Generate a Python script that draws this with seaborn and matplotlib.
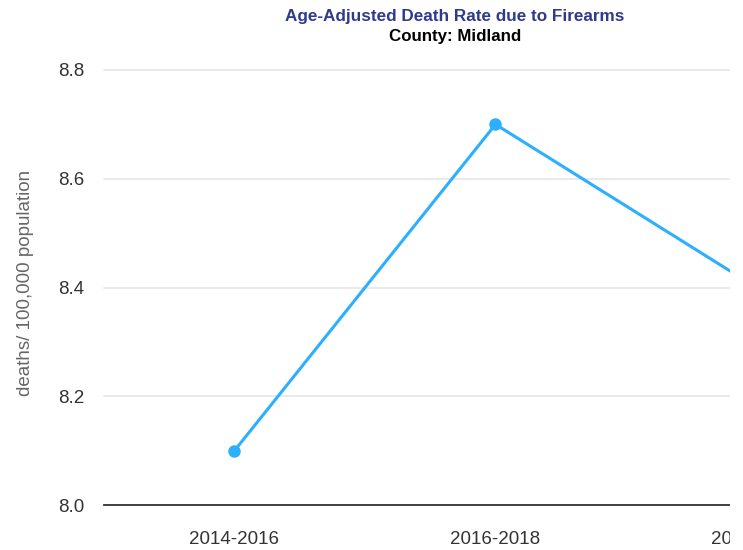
import numpy as np
import pandas as pd
import seaborn as sns
import matplotlib.pyplot as plt
from matplotlib.transforms import Bbox, TransformedBbox

periods = ["2014-2016", "2016-2018", "2018-2020"]
rates = [8.1, 8.7, 8.4]
yticks = [8.0, 8.2, 8.4, 8.6, 8.8]

sns.set_theme(style="white")
plt.rcParams['font.family'] = ['Liberation Sans', 'DejaVu Sans']

W, H = 743, 550
fig = plt.figure(figsize=(W / 100, H / 100), dpi=100)
# plot area runs past the right edge of the picture, as in the reference
left, right, bottom, top = 104, 887, 505, 70
ax = fig.add_axes([left / W, 1 - bottom / H, (right - left) / W, (bottom - top) / H])

df = pd.DataFrame({"period": periods, "rate": rates})
sns.lineplot(data=df, x="period", y="rate", ax=ax, color="#2caffe", lw=2.2,
             marker="o", markersize=9, markeredgewidth=0, sort=False)

ax.set_xlim(-0.5, 2.5)
ax.set_ylim(8.0, 8.8)
ax.set_yticks(yticks)
ax.set_yticklabels([f"{v:.1f}" for v in yticks])
ax.grid(axis="y", color="#e6e6e6", lw=1.2)
ax.set_axisbelow(True)
for s in ["top", "right", "left"]:
    ax.spines[s].set_visible(False)
ax.spines["bottom"].set_color("#333333")
ax.spines["bottom"].set_linewidth(1.3)
ax.tick_params(axis="both", length=0, labelsize=13.5, labelcolor="#333333")
ax.tick_params(axis="y", pad=14)
ax.tick_params(axis="x", pad=19)
ax.set_xlabel("")
ax.set_ylabel("deaths/ 100,000 population", fontsize=13.5, color="#666666")
ax.yaxis.set_label_coords((34 - left) / (right - left), (bottom - 283) / (bottom - top))

# everything in the chart is clipped at x=730 like the reference
clip = TransformedBbox(Bbox([[0, 0], [730 / W, 1]]), fig.transFigure)
for art in ax.get_lines() + ax.get_ygridlines() + [ax.spines["bottom"]]:
    art.set_clip_box(clip)
    art.set_clip_on(True)
for t in ax.get_xticklabels():
    t.set_clip_box(clip)
    t.set_clip_on(True)

cx = 455 / W
fig.text(cx, 1 - 16 / H, "Age-Adjusted Death Rate due to Firearms", ha="center", va="center",
         fontsize=12.3, fontweight="bold", color="#2e3a8c")
fig.text(cx, 1 - 36 / H, "County: Midland", ha="center", va="center",
         fontsize=12.2, fontweight="bold", color="black")

fig.savefig("out.png", dpi=100)
